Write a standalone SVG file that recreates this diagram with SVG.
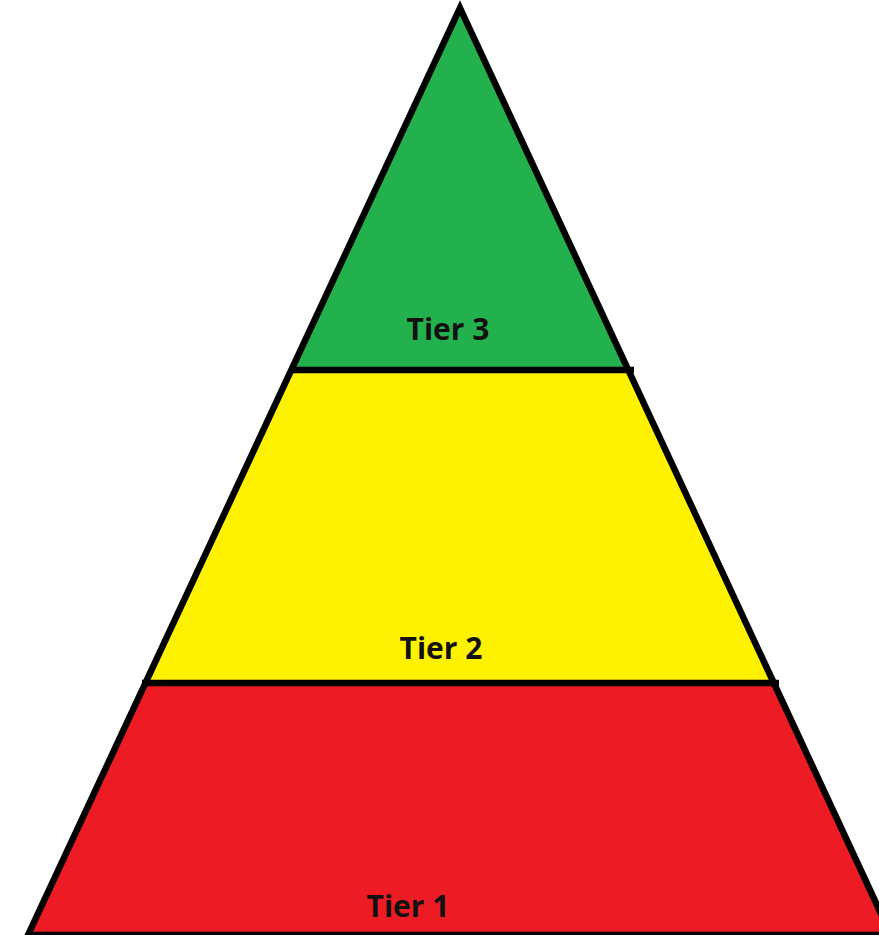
<svg xmlns="http://www.w3.org/2000/svg" width="879" height="935" viewBox="0 0 879 935">
<style>
.edge{stroke:#000;stroke-width:6.5;stroke-linejoin:miter;fill:none}
.lbl{font-family:"Open Sans","Noto Sans","Liberation Sans",sans-serif;font-weight:bold;font-size:30px;fill:#111;text-anchor:middle}
</style>
<rect width="879" height="935" fill="#fff"/>
<g id="tier1">
<polygon points="144,683 776,683 891,935 28,935" fill="#ED1C24"/>
<text class="lbl" x="408" y="917">Tier 1</text>
</g>
<g id="tier2">
<polygon points="291,370 629,370 776,683 144,683" fill="#FFF200"/>
<text class="lbl" x="441" y="659">Tier 2</text>
</g>
<g id="tier3">
<polygon points="460,8 629,370 291,370" fill="#22B14C"/>
<text class="lbl" x="448" y="340">Tier 3</text>
</g>
<g id="connectors">
<polygon class="edge" points="460,8 891,935 28,935"/>
<line class="edge" x1="290" y1="370" x2="634" y2="370"/>
<line class="edge" x1="142" y1="683" x2="779" y2="683"/>
</g>
</svg>
